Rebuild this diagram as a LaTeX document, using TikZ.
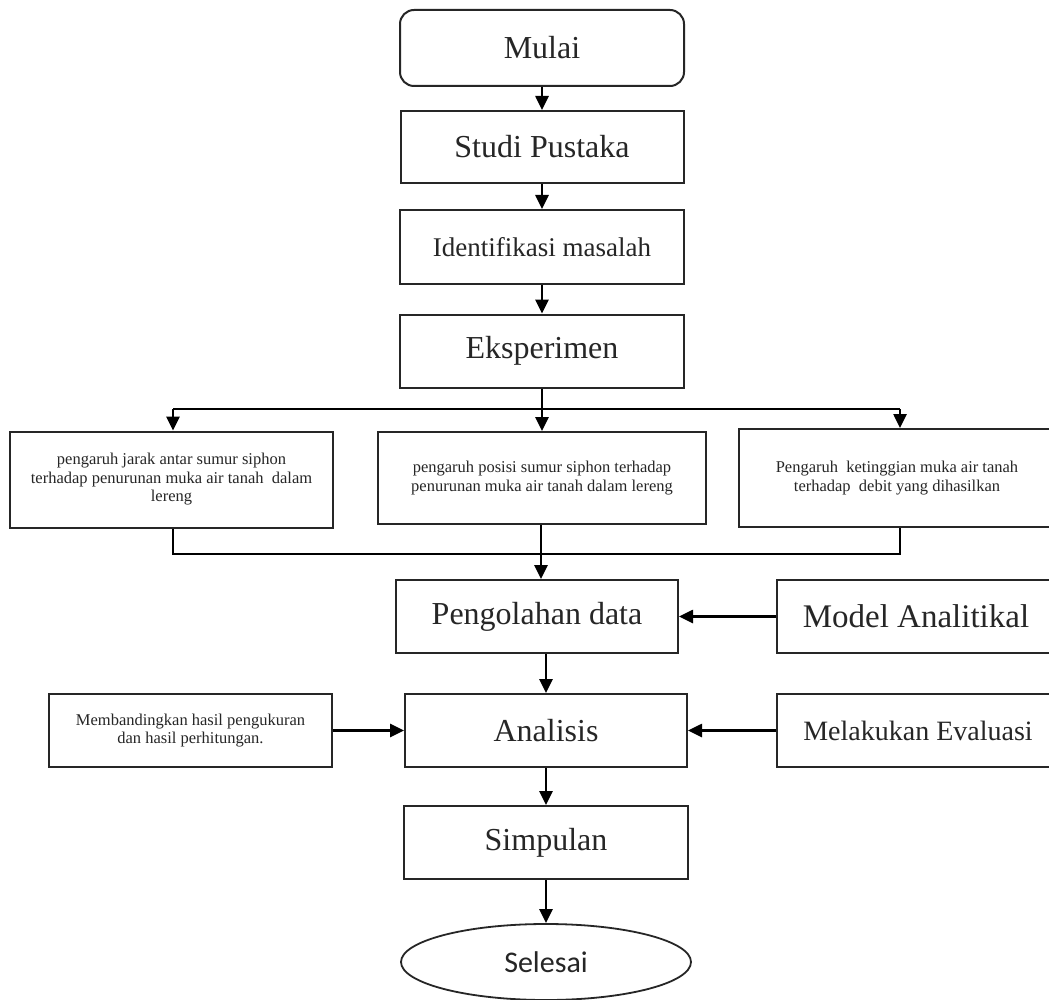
\documentclass[tikz,border=0pt]{standalone}
\usepackage{fontspec}
\setmainfont{Liberation Serif}
\newfontfamily\carlitofont{Carlito}
\usetikzlibrary{arrows.meta,shapes.geometric}
\tikzset{
  box/.style={draw=black!85, line width=2pt, rectangle, inner sep=0pt, align=center, text=black!85},
  big/.style={font=\fontsize{32}{38}\selectfont},
  small/.style={font=\fontsize{16.5}{18.5}\selectfont},
  conn/.style={draw=black, line width=2.6pt, -{Triangle[length=14pt,width=13pt]}},
  plain/.style={draw=black, line width=2.6pt},
}
\begin{document}
\begin{tikzpicture}[x=1pt,y=-1pt]
\clip (0,0) rectangle (1049,1000);
\fill[white] (0,0) rectangle (1049,1000);
% main column
\node[box, big, rounded corners=14pt, minimum width=284pt, minimum height=76pt] (mulai) at (542,48) {Mulai};
\node[box, big, minimum width=283pt, minimum height=72pt] (studi) at (542,147) {Studi Pustaka};
\node[box, font=\fontsize{27}{32}\selectfont, minimum width=284pt, minimum height=74pt] (ident) at (542,247) {Identifikasi masalah};
\node[box, big, minimum width=284pt, minimum height=73pt] (eksp) at (542,351) {Eksperimen};
% three experiment boxes
\node[box, small, minimum width=323pt, minimum height=96pt] (b1) at (171.5,479.5) {pengaruh jarak antar sumur siphon\\terhadap penurunan muka air tanah \ dalam\\lereng};
\node[box, small, minimum width=328pt, minimum height=92pt] (b2) at (542,478) {pengaruh posisi sumur siphon terhadap\\penurunan muka air tanah dalam lereng};
\node[box, small, minimum width=316pt, minimum height=98pt] (b3) at (897,478) {Pengaruh \ ketinggian muka air tanah\\terhadap \ debit yang dihasilkan};
% processing
\node[box, big, minimum width=282pt, minimum height=73pt] (peng) at (537,616.5) {Pengolahan data};
\node[box, font=\fontsize{33}{39}\selectfont, minimum width=278pt, minimum height=73pt] (model) at (916,616.5) {Model Analitikal};
\node[box, small, minimum width=283pt, minimum height=73pt] (banding) at (190.5,730.5) {Membandingkan hasil pengukuran\\dan hasil perhitungan.};
\node[box, big, minimum width=282pt, minimum height=73pt] (anal) at (546,730.5) {Analisis};
\node[box, font=\fontsize{28}{33}\selectfont, minimum width=282pt, minimum height=73pt] (eval) at (918,730.5) {Melakukan Evaluasi};
\node[box, big, minimum width=284pt, minimum height=73pt] (simp) at (546,842.5) {Simpulan};
\node[draw=black!85, line width=1.8pt, ellipse, inner sep=0pt, minimum width=290pt, minimum height=76pt, text=black!85, font=\carlitofont\fontsize{30}{36}\selectfont] (sel) at (546,962) {Selesai};
% connectors
\draw[conn] (mulai) -- (studi);
\draw[conn] (studi) -- (ident);
\draw[conn] (ident) -- (eksp);
\coordinate (split) at (542,409);
\coordinate (sl) at (173,409);
\coordinate (sr) at (900,409);
\draw[plain] (eksp) -- (split);
\draw[plain] (sl) -- (sr);
\draw[conn] (sl) -- (sl |- b1.north);
\draw[conn] (split) -- (b2);
\draw[conn] (sr) -- (sr |- b3.north);
\coordinate (jl) at (173,554);
\coordinate (jr) at (900,554);
\coordinate (jm) at (541,554);
\draw[plain] (jl |- b1.south) -- (jl) -- (jr) -- (jr |- b3.south);
\draw[conn] (jm |- b2.south) -- (jm |- peng.north);
\draw[conn] (model) -- (peng);
\draw[conn] (anal.north |- peng.south) -- (anal.north);
\draw[conn] (banding) -- (anal);
\draw[conn] (eval) -- (anal);
\draw[conn] (anal) -- (simp);
\draw[conn] (simp) -- (sel);
\end{tikzpicture}
\end{document}
